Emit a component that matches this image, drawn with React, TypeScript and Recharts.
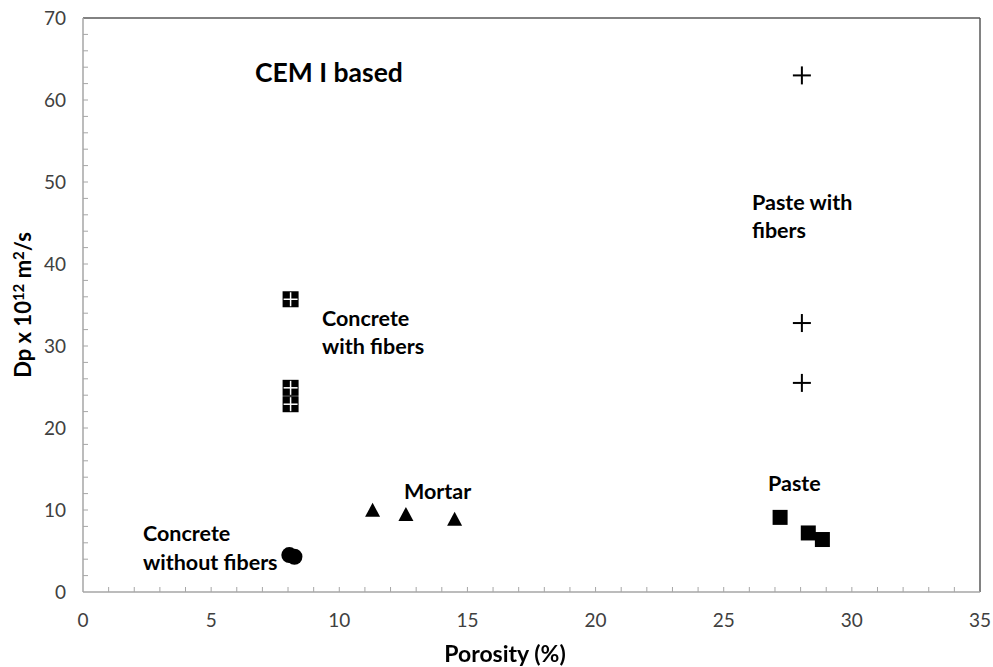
import { ScatterChart, Scatter, XAxis, YAxis, ReferenceLine } from "recharts";

// porosity (%) vs Dp x 10^12 m²/s
const concreteWithFibers = [
  { x: 8.1, y: 35.7 },
  { x: 8.1, y: 24.9 },
  { x: 8.1, y: 22.9 },
];
const concreteWithoutFibers = [
  { x: 8.05, y: 4.5 },
  { x: 8.25, y: 4.3 },
];
const mortar = [
  { x: 11.3, y: 9.9 },
  { x: 12.6, y: 9.4 },
  { x: 14.5, y: 8.8 },
];
const paste = [
  { x: 27.2, y: 9.1 },
  { x: 28.3, y: 7.2 },
  { x: 28.85, y: 6.4 },
];
const pasteWithFibers = [
  { x: 28.05, y: 63 },
  { x: 28.05, y: 32.8 },
  { x: 28.05, y: 25.5 },
];

const xTicks = [
  0, 1, 2, 3, 4, 5, 6, 7, 8, 9, 10, 11, 12, 13, 14, 15, 16, 17, 18, 19, 20,
  21, 22, 23, 24, 25, 26, 27, 28, 29, 30, 31, 32, 33, 34, 35,
];
const yTicks = [
  0, 2, 4, 6, 8, 10, 12, 14, 16, 18, 20, 22, 24, 26, 28, 30, 32, 34, 36, 38,
  40, 42, 44, 46, 48, 50, 52, 54, 56, 58, 60, 62, 64, 66, 68, 70,
];

const FONT = "Lato, 'Open Sans', sans-serif";
const AXIS = "#a6a6a6";
const FRAME = "#595959";
const TEXT = "#404040";

const XTick = ({ x, y, payload }: any) => {
  const v = payload.value;
  return (
    <g>
      {v > 0 && v < 35 && (
        <line x1={x} x2={x} y1={y} y2={y - 5} stroke={AXIS} strokeWidth={1} />
      )}
      {v % 5 === 0 && (
        <text
          x={x}
          y={y + 35}
          textAnchor="middle"
          fontSize={19}
          fontFamily={FONT}
          fill={TEXT}
        >
          {v}
        </text>
      )}
    </g>
  );
};

const YTick = ({ x, y, payload }: any) => {
  const v = payload.value;
  return (
    <g>
      {v > 0 && v < 70 && (
        <line x1={x} x2={x + 5} y1={y} y2={y} stroke={AXIS} strokeWidth={1} />
      )}
      {v % 10 === 0 && (
        <text
          x={x - 17}
          y={y + 7}
          textAnchor="end"
          fontSize={19}
          fontFamily={FONT}
          fill={TEXT}
        >
          {v}
        </text>
      )}
    </g>
  );
};

const PlusMarker = ({ cx, cy }: any) => (
  <g stroke="#000" strokeWidth={2}>
    <line x1={cx - 9} x2={cx + 9} y1={cy} y2={cy} />
    <line x1={cx} x2={cx} y1={cy - 9} y2={cy + 9} />
  </g>
);

const CrossedSquare = ({ cx, cy }: any) => (
  <g>
    <rect x={cx - 8} y={cy - 8} width={16} height={16} fill="#000" />
    <line x1={cx - 7} x2={cx + 7} y1={cy} y2={cy} stroke="#fff" strokeWidth={1.5} />
    <line x1={cx} x2={cx} y1={cy - 7} y2={cy + 7} stroke="#fff" strokeWidth={1.5} />
  </g>
);

const Dot = ({ cx, cy }: any) => <circle cx={cx} cy={cy} r={8} fill="#000" />;

const Triangle = ({ cx, cy }: any) => (
  <path d={`M${cx},${cy - 8} L${cx + 7.5},${cy + 6} L${cx - 7.5},${cy + 6} Z`} fill="#000" />
);

const Square = ({ cx, cy }: any) => (
  <rect x={cx - 7.5} y={cy - 7.5} width={15} height={15} fill="#000" />
);

const label = (left: number, top: number, size: number, lh?: number): any => ({
  position: "absolute",
  left,
  top,
  fontSize: size,
  lineHeight: lh ? `${lh}px` : 1,
  fontWeight: 700,
  fontFamily: FONT,
  color: "#000",
  whiteSpace: "nowrap",
});

const sup = { fontSize: 15, verticalAlign: "7px", lineHeight: 1 };

export default function App() {
  return (
    <div
      style={{
        position: "fixed",
        left: 0,
        top: 0,
        width: 993,
        height: 667,
        background: "#fff",
      }}
    >
      <ScatterChart
        width={993}
        height={667}
        margin={{ top: 18, right: 13, bottom: 25, left: 23 }}
      >
        <XAxis
          type="number"
          dataKey="x"
          domain={[0, 35]}
          ticks={xTicks}
          interval={0}
          tickSize={0}
          tickMargin={0}
          tick={<XTick />}
          axisLine={{ stroke: AXIS, strokeWidth: 1.5 }}
          tickLine={false}
          height={50}
          allowDataOverflow
        />
        <YAxis
          type="number"
          dataKey="y"
          domain={[0, 70]}
          ticks={yTicks}
          interval={0}
          tickSize={0}
          tickMargin={0}
          tick={<YTick />}
          axisLine={{ stroke: AXIS, strokeWidth: 1.5 }}
          tickLine={false}
          width={60}
          allowDataOverflow
        />
        <ReferenceLine y={70} stroke={FRAME} strokeWidth={1.5} />
        <ReferenceLine x={35} stroke={FRAME} strokeWidth={1.5} />
        <Scatter data={concreteWithFibers} shape={<CrossedSquare />} isAnimationActive={false} />
        <Scatter data={concreteWithoutFibers} shape={<Dot />} isAnimationActive={false} />
        <Scatter data={mortar} shape={<Triangle />} isAnimationActive={false} />
        <Scatter data={paste} shape={<Square />} isAnimationActive={false} />
        <Scatter data={pasteWithFibers} shape={<PlusMarker />} isAnimationActive={false} />
      </ScatterChart>

      <div style={label(255, 59, 26.5)}>CEM I based</div>
      <div style={label(752, 188, 21.5, 28)}>
        Paste with
        <br />
        fibers
      </div>
      <div style={label(322, 304, 21.5, 28)}>
        Concrete
        <br />
        with fibers
      </div>
      <div style={label(404, 481, 21.5)}>Mortar</div>
      <div style={label(768, 473, 21.5)}>Paste</div>
      <div style={label(143, 519, 21.5, 29)}>
        Concrete
        <br />
        without fibers
      </div>
      <div
        style={{
          ...label(0, 642, 23),
          width: 1010,
          textAlign: "center",
        }}
      >
        Porosity (%)
      </div>
      <div
        style={{
          ...label(22, 305, 22),
          transform: "translate(-50%, -50%) rotate(-90deg)",
        }}
      >
        Dp x 10<sup style={sup}>12</sup> m<sup style={sup}>2</sup>/s
      </div>
    </div>
  );
}
